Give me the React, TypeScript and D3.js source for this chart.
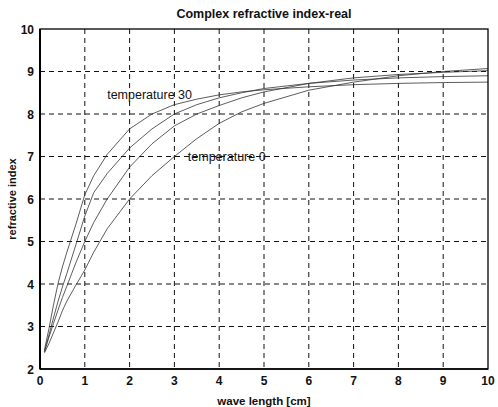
import React from "react";
import * as d3 from "d3";

const waveLength = [0.1, 0.2, 0.3, 0.4, 0.5, 0.6, 0.8, 1.0, 1.2, 1.5, 2, 2.5, 3, 3.5, 4, 4.5, 5, 6, 7, 8, 9, 10];
const temp30 = [2.45, 2.95, 3.5, 4.0, 4.4, 4.75, 5.4, 6.1, 6.55, 7.05, 7.65, 8.0, 8.22, 8.35, 8.45, 8.52, 8.57, 8.64, 8.69, 8.72, 8.74, 8.75];
const temp20 = [2.42, 2.8, 3.2, 3.58, 3.93, 4.25, 4.92, 5.6, 6.15, 6.6, 7.2, 7.65, 8.0, 8.22, 8.38, 8.5, 8.6, 8.72, 8.8, 8.85, 8.88, 8.9];
const temp10 = [2.4, 2.75, 3.07, 3.38, 3.68, 3.95, 4.5, 5.0, 5.45, 6.0, 6.75, 7.3, 7.72, 8.0, 8.2, 8.38, 8.52, 8.72, 8.85, 8.93, 8.98, 9.02];
const temp0 = [2.38, 2.6, 2.85, 3.1, 3.37, 3.6, 3.97, 4.33, 4.75, 5.3, 6.0, 6.55, 7.0, 7.42, 7.78, 8.05, 8.25, 8.56, 8.75, 8.9, 9.0, 9.07];
const series = [temp30, temp20, temp10, temp0];
const xTicks = [0, 1, 2, 3, 4, 5, 6, 7, 8, 9, 10];
const yTicks = [2, 3, 4, 5, 6, 7, 8, 9, 10];
const annotations = [
  { text: "temperature 30", x: 1.5, y: 8.45 },
  { text: "temperature 0", x: 3.3, y: 7.0 },
];
const title = "Complex refractive index-real";
const xLabel = "wave length [cm]";
const yLabel = "refractive index";

export default function App() {
  const W = 498, H = 407;
  const left = 40, right = 488, top = 29, bottom = 369;
  const x = d3.scaleLinear().domain([0, 10]).range([left, right]);
  const y = d3.scaleLinear().domain([2, 10]).range([bottom, top]);
  const line = d3.line<number>().x((_, i) => x(waveLength[i])).y((d) => y(d));
  const font = "'Liberation Sans', Arial, Helvetica, sans-serif";
  return (
    <svg width={W} height={H} style={{ position: "fixed", left: 0, top: 0, background: "#fff" }} fontFamily={font}>
      <rect x={0} y={0} width={W} height={H} fill="#fff" />
      {xTicks.slice(1, -1).map((t) => (
        <line key={"gx" + t} x1={x(t)} x2={x(t)} y1={top} y2={bottom} stroke="#111" strokeWidth={1} strokeDasharray="5,4" />
      ))}
      {yTicks.slice(1, -1).map((t) => (
        <line key={"gy" + t} x1={left} x2={right} y1={y(t)} y2={y(t)} stroke="#111" strokeWidth={1} strokeDasharray="5,4" />
      ))}
      {series.map((s, i) => (
        <path key={i} d={line(s) || ""} fill="none" stroke="#333" strokeWidth={0.8} />
      ))}
      <rect x={left} y={top} width={right - left} height={bottom - top} fill="none" stroke="#000" strokeWidth={1.3} />
      <line x1={left} x2={left} y1={top} y2={bottom} stroke="#000" strokeWidth={2} />
      <line x1={left} x2={right} y1={bottom} y2={bottom} stroke="#000" strokeWidth={1.6} />
      {xTicks.map((t) => (
        <text key={"tx" + t} x={x(t)} y={385} textAnchor="middle" fontSize={12} fontWeight="bold" fill="#111">{t}</text>
      ))}
      {yTicks.map((t) => (
        <text key={"ty" + t} x={34} y={y(t) + 4.5} textAnchor="end" fontSize={12} fontWeight="bold" fill="#111">{t}</text>
      ))}
      {annotations.map((a) => (
        <text key={a.text} x={x(a.x)} y={y(a.y) + 4.5} fontSize={12.5} fill="#111">{a.text}</text>
      ))}
      <text x={(left + right) / 2} y={18} textAnchor="middle" fontSize={12.5} fontWeight="bold" fill="#111">{title}</text>
      <text x={(left + right) / 2} y={405} textAnchor="middle" fontSize={11.5} fontWeight="bold" fill="#111">{xLabel}</text>
      <text transform={`translate(16,${(top + bottom) / 2}) rotate(-90)`} textAnchor="middle" fontSize={11} fontWeight="bold" fill="#111">{yLabel}</text>
    </svg>
  );
}
